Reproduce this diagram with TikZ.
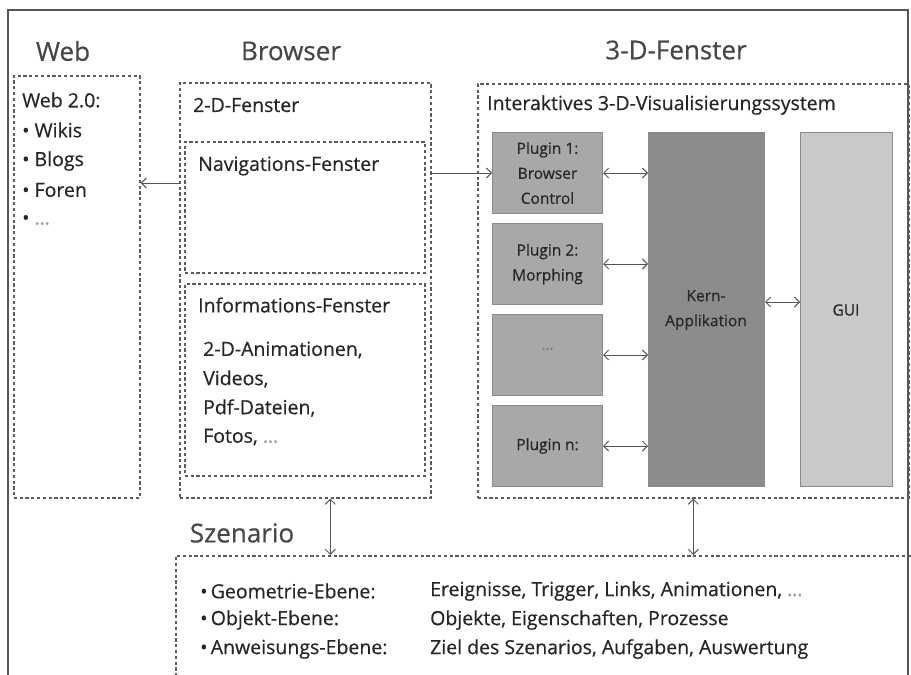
\documentclass[tikz,border=0pt]{standalone}
\usepackage{fontspec}
\setmainfont{Open Sans}
\newfontfamily\heavyfont{Open Sans}[FakeBold=0.5]
\usetikzlibrary{arrows.meta}
\definecolor{ink}{HTML}{262626}
\definecolor{titleink}{HTML}{474747}
\definecolor{framegray}{HTML}{555555}
\definecolor{dashgray}{HTML}{5C5C5C}
\definecolor{plugfill}{HTML}{A8A8A8}
\definecolor{kernfill}{HTML}{8C8C8C}
\definecolor{guifill}{HTML}{C9C9C9}
\definecolor{blockline}{HTML}{8A8A8A}
\definecolor{arrowgray}{HTML}{555555}
\definecolor{dots}{HTML}{9A9A9A}
\definecolor{dotsdark}{HTML}{7A7A7A}
\tikzset{
  dbox/.style={draw=dashgray, line width=1.6pt, dash pattern=on 3.2pt off 2.6pt,
    rectangle, anchor=north west, inner sep=0pt},
  block/.style={draw=blockline, line width=1pt, rectangle, anchor=north west,
    inner sep=0pt},
  title/.style={text=titleink, font=\heavyfont\fontsize{26}{30}\selectfont, inner sep=0pt},
  label/.style={text=ink, font=\heavyfont\fontsize{19.5}{22}\selectfont, anchor=west, inner sep=0pt},
  small/.style={text=ink, font=\heavyfont\fontsize{15.5}{25}\selectfont, align=center, inner sep=0pt},
  arr/.style={draw=arrowgray, line width=1pt, -{Straight Barb[length=5pt,width=10pt]}},
  darr/.style={draw=arrowgray, line width=1pt,
    {Straight Barb[length=5pt,width=10pt]}-{Straight Barb[length=5pt,width=10pt]}},
}
\begin{document}
\begin{tikzpicture}[x=1pt,y=-1pt]
\useasboundingbox (0,0) rectangle (911,675);
\clip (0,0) rectangle (911,675);

% outer frame (runs past the lower edge)
\draw[framegray, line width=1.5pt] (8,720) -- (8,10) -- (908,10) -- (908,720);

% column titles
\node[title] (tweb) at (63,51) {Web};
\node[title] (tbrowser) at (291,51) {Browser};
\node[title] (t3d) at (676,50) {3-D-Fenster};

% Web column
\node[dbox, minimum width=126pt, minimum height=422pt] (web) at (13,75) {};
\node[label] (web20) at (22,100) {Web 2.0:};
\node[label] (wikis) at (22,130) {\textbullet\ Wikis};
\node[label] (blogs) at (22,161) {\textbullet\ Blogs};
\node[label] (foren) at (22,190) {\textbullet\ Foren};
\node[label] (more) at (22,220) {\textbullet\ \textcolor{dots}{\dots}};

% Browser column
\node[dbox, minimum width=251pt, minimum height=415pt] (browser) at (179,82) {};
\node[label] (fenster2d) at (193,105) {2-D-Fenster};
\node[dbox, minimum width=240pt, minimum height=131pt] (nav) at (184,141) {};
\node[label] (navtext) at (198,166) {Navigations-Fenster};
\node[dbox, minimum width=240pt, minimum height=192pt] (info) at (184,283) {};
\node[label] (infotext) at (198,305) {Informations-Fenster};
\node[label] (anim) at (203,350) {2-D-Animationen,};
\node[label] (videos) at (203,379) {Videos,};
\node[label] (pdf) at (203,408) {Pdf-Dateien,};
\node[label] (fotos) at (203,437) {Fotos, \textcolor{dots}{\dots}};

% 3-D column
\node[dbox, minimum width=431pt, minimum height=414pt] (vis) at (477,83) {};
\node[label] (vistext) at (487,105) {Interaktives 3-D-Visualisierungssystem};

\node[block, fill=plugfill, minimum width=110pt, minimum height=81pt] (p1) at (492,132) {};
\node[small] at (p1.center) {Plugin 1:\\Browser\\Control};
\node[block, fill=plugfill, minimum width=110pt, minimum height=81pt] (p2) at (492,223) {};
\node[small] at (p2.center) {Plugin 2:\\Morphing};
\node[block, fill=plugfill, minimum width=110pt, minimum height=81pt] (p3) at (492,314) {};
\node[small, text=dotsdark] at ([yshift=6pt]p3.center) {\dots};
\node[block, fill=plugfill, minimum width=110pt, minimum height=81pt] (pn) at (492,405) {};
\node[small] at (pn.center) {Plugin n:};

\node[block, fill=kernfill, minimum width=116pt, minimum height=354pt] (kern) at (648,132) {};
\node[small] (kerntext) at (706,310) {Kern-\\Applikation};
\node[block, fill=guifill, minimum width=92pt, minimum height=354pt] (gui) at (800,132) {};
\node[small] (guitext) at (846,310) {GUI};

% Szenario
\node[title] (tscen) at (242,533) {Szenario};
\node[dbox, minimum width=740pt, minimum height=160pt] (scen) at (175,555) {};
\node[label] (l1) at (200,591) {\textbullet\,Geometrie-Ebene:};
\node[label] (l2) at (200,620) {\textbullet\,Objekt-Ebene:};
\node[label] (l3) at (200,649) {\textbullet\,Anweisungs-Ebene:};
\node[label] (r1) at (430,591) {Ereignisse, Trigger, Links, Animationen, \textcolor{dots}{\dots}};
\node[label] (r2) at (430,620) {Objekte, Eigenschaften, Prozesse};
\node[label] (r3) at (430,649) {Ziel des Szenarios, Aufgaben, Auswertung};

% connectors
\coordinate (webarrow) at (0,183);
\draw[arr] (browser.west |- webarrow) -- (web.east |- webarrow);
\draw[arr] (browser.east |- p1.west) -- (p1.west);
\draw[darr] (p1.east) -- (p1.east -| kern.west);
\draw[darr] (p2.east) -- (p2.east -| kern.west);
\draw[darr] (p3.east) -- (p3.east -| kern.west);
\draw[darr] (pn.east) -- (pn.east -| kern.west);
\coordinate (guiarrow) at (0,302);
\draw[darr] (kern.east |- guiarrow) -- (gui.west |- guiarrow);
\draw[darr] ([xshift=25pt]browser.south) -- ([xshift=25pt]browser.south |- scen.north);
\draw[darr] (vis.south) -- (vis.south |- scen.north);
\end{tikzpicture}
\end{document}
